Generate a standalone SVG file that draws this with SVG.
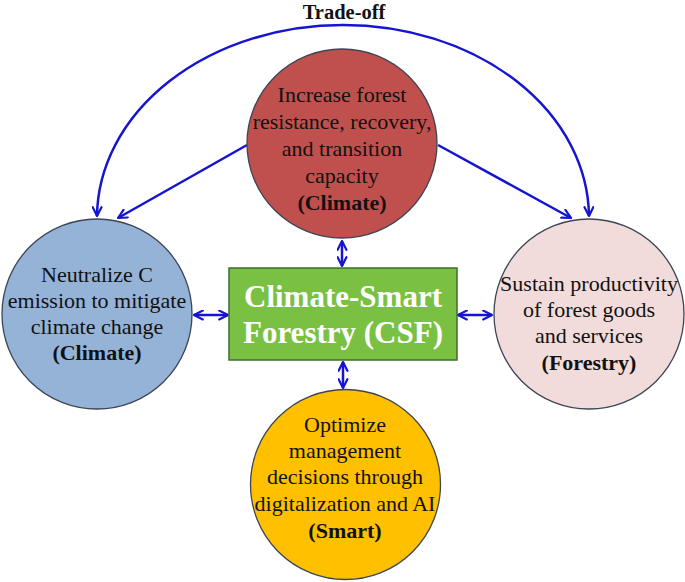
<svg xmlns="http://www.w3.org/2000/svg" width="685" height="582" viewBox="0 0 685 582">
<defs>
<style>
.node{stroke:#3b4556;stroke-width:1.3}
.t{font-family:"Liberation Serif","Times New Roman",serif;font-size:22px;fill:#111;text-anchor:middle}
.b{font-weight:bold}
.csf{font-family:"Liberation Serif","Times New Roman",serif;font-size:31px;font-weight:bold;fill:#fff;text-anchor:middle}
.c{fill:none;stroke:#1414d2;stroke-width:2.5}
</style>
<marker id="ah" viewBox="0 0 10 10" refX="9" refY="5" markerWidth="4.4" markerHeight="4.4" orient="auto-start-reverse" markerUnits="strokeWidth">
<path d="M1,1 L9,5 L1,9" fill="none" stroke="#1414d2" stroke-width="2" stroke-linecap="round" stroke-linejoin="round"/>
</marker>
</defs>
<rect width="685" height="582" fill="#fff"/>
<text x="344" y="19" class="t b" style="font-size:20.5px">Trade-off</text>
<g id="connectors">
<path class="c" d="M343,25 A246,193 0 0 0 97,216" marker-end="url(#ah)"/>
<path class="c" d="M343,25 A246,193 0 0 1 589,216" marker-end="url(#ah)"/>
<path class="c" d="M247,145 L118,218" marker-end="url(#ah)"/>
<path class="c" d="M438,145 L571,218" marker-end="url(#ah)"/>
<path class="c" d="M342,241 L342,266" marker-start="url(#ah)" marker-end="url(#ah)"/>
<path class="c" d="M343,362 L343,388" marker-start="url(#ah)" marker-end="url(#ah)"/>
<path class="c" d="M194,315 L228,315" marker-start="url(#ah)" marker-end="url(#ah)"/>
<path class="c" d="M458,315 L492,315" marker-start="url(#ah)" marker-end="url(#ah)"/>
</g>
<g id="red">
<ellipse class="node" cx="342" cy="143.5" rx="95" ry="94.5" fill="#c0504d"/>
<text class="t" x="342" y="102">Increase forest</text>
<text class="t" x="342" y="129">resistance, recovery,</text>
<text class="t" x="342" y="156">and transition</text>
<text class="t" x="342" y="183">capacity</text>
<text class="t b" x="342" y="210">(Climate)</text>
</g>
<g id="blue">
<circle class="node" cx="97" cy="314" r="95" fill="#95b3d7"/>
<text class="t" x="97" y="282">Neutralize C</text>
<text class="t" x="97" y="308">emission to mitigate</text>
<text class="t" x="97" y="334">climate change</text>
<text class="t b" x="97" y="360">(Climate)</text>
</g>
<g id="pink">
<circle class="node" cx="589" cy="314" r="95" fill="#f2dcdb"/>
<text class="t" x="589" y="291">Sustain productivity</text>
<text class="t" x="589" y="317">of forest goods</text>
<text class="t" x="589" y="343">and services</text>
<text class="t b" x="589" y="370">(Forestry)</text>
</g>
<g id="yellow">
<circle class="node" cx="345.5" cy="484.5" r="95" fill="#ffc000"/>
<text class="t" x="345" y="432">Optimize</text>
<text class="t" x="345" y="458">management</text>
<text class="t" x="345" y="484">decisions through</text>
<text class="t" x="345" y="511">digitalization and AI</text>
<text class="t b" x="345" y="538">(Smart)</text>
</g>
<g id="csf">
<rect x="229" y="268" width="228" height="92" fill="#7ac143" stroke="#3c6e2c" stroke-width="1.5"/>
<text class="csf" x="343" y="307">Climate-Smart</text>
<text class="csf" x="343" y="343">Forestry (CSF)</text>
</g>
</svg>
